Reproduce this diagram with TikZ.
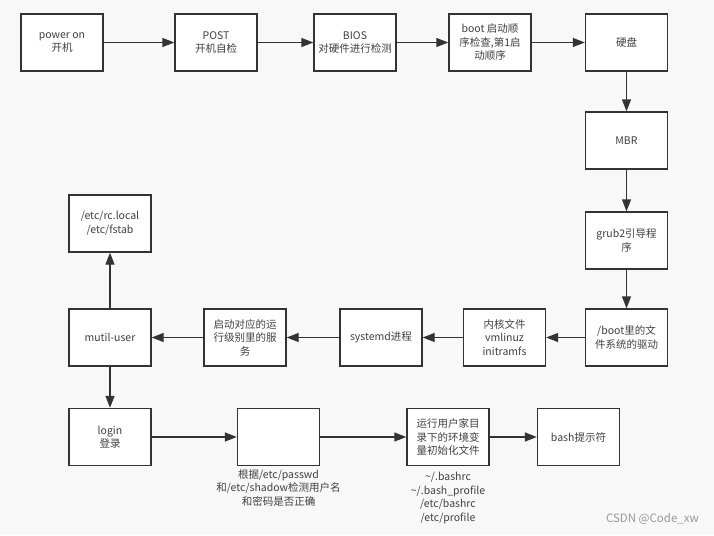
\documentclass[tikz,border=0pt]{standalone}
\usepackage{fontspec}
\setmainfont{Noto Sans CJK SC}
\usetikzlibrary{arrows.meta}

\definecolor{bggray}{HTML}{F8F8F8}
\definecolor{linegray}{HTML}{333333}
\definecolor{textgray}{HTML}{404040}

\begin{document}
\begin{tikzpicture}[x=1pt,y=-1pt,
    font=\fontsize{10.5}{13.5}\selectfont,
    stage/.style={draw=linegray,fill=white,line width=1.4pt,
        minimum width=82pt,minimum height=57pt,align=center,
        text=textgray,inner sep=2pt},
    note/.style={align=center,text=textgray,inner sep=0pt},
    flow/.style={draw=linegray,line width=1.4pt,
        -{Triangle[length=12pt,width=9pt]}}]

% background
\fill[bggray] (0,0) rectangle (714,535);

\useasboundingbox (0,0) rectangle (714,535);

% power on to disk
\node[stage] (power) at (62,42.5) {power on\\开机};

\node[stage] (post) at (216,42.5) {POST\\开机自检};

\node[stage] (bios) at (355,42.5) {BIOS\\对硬件进行检测};

\node[stage] (order) at (490,42.5) {boot 启动顺\\序检查,第1启\\动顺序};

\node[stage] (disk) at (626.5,42.5) {硬盘};

% down the right side
\node[stage] (mbr) at (626.5,140.5) {MBR};

\node[stage] (grub) at (626.5,240.5) {grub2引导程\\序};

\node[stage] (driver) at (626.5,337.5) {/boot里的文\\件系统的驱动};

% back to the left
\node[stage] (kernel) at (504.5,337.5) {内核文件\\vmlinuz\\initramfs};

\node[stage] (systemd) at (381,337.5) {systemd进程};

\node[stage] (services) at (245,337.5) {启动对应的运\\行级别里的服\\务};

\node[stage] (multi) at (110,337.5) {mutil-user};

\node[stage] (rclocal) at (110,223.5) {/etc/rc.local\\/etc/fstab};

% login and shell
\node[stage] (login) at (110,437) {login\\登录};

\node[stage] (check) at (278.5,437) {};

\node[note,anchor=north] (checknote) at (check.south |- 0,469)
    {根据/etc/passwd\\和/etc/shadow检测用户名\\和密码是否正确};

\node[stage] (profile) at (448,437) {运行用户家目\\录下的环境变\\量初始化文件};

\node[note,anchor=north] (profilenote) at (profile.south |- 0,472)
    {\textasciitilde/.bashrc\\\textasciitilde/.bash\_profile\\/etc/bashrc\\/etc/profile};

\node[stage] (bash) at (578.5,437) {bash提示符};

\node[note,anchor=east,text=black!40,font=\fontsize{11.5}{13.5}\selectfont]
    (mark) at (699,519) {CSDN @Code\_xw};

% connectors
\draw[flow] (power) -- (post);

\draw[flow] (post) -- (bios);

\draw[flow] (bios) -- (order);

\draw[flow] (order) -- (disk);

\draw[flow] (disk) -- (mbr);

\draw[flow] (mbr) -- (grub);

\draw[flow] (grub) -- (driver);

\draw[flow] (driver) -- (kernel);

\draw[flow] (kernel) -- (systemd);

\draw[flow] (systemd) -- (services);

\draw[flow] (services) -- (multi);

\draw[flow] (multi) -- (rclocal);

\draw[flow] (multi) -- (login);

\draw[flow] (login) -- (check);

\draw[flow] (check) -- (profile);

\draw[flow] (profile) -- (bash);

\end{tikzpicture}
\end{document}
